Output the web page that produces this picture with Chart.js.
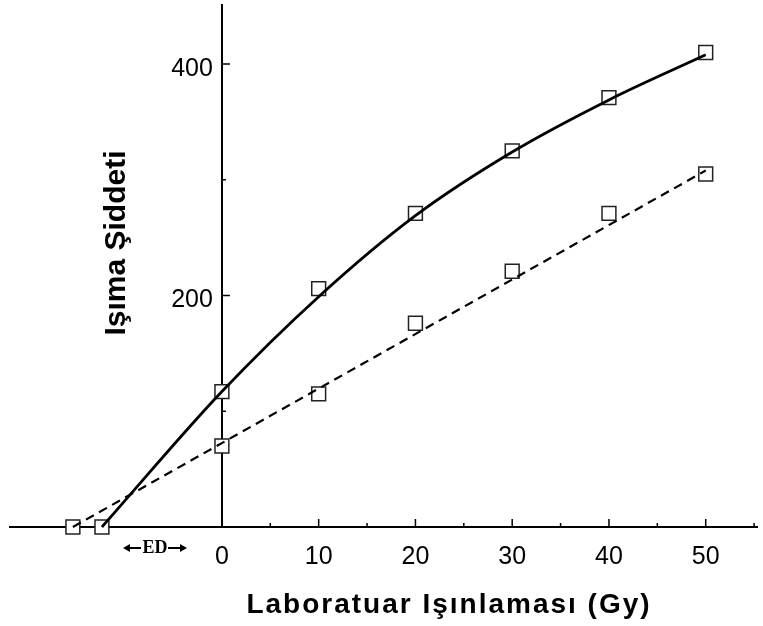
<!DOCTYPE html>
<html lang="tr">
<head>
<meta charset="UTF-8">
<title>Işıma Şiddeti</title>
<script src="https://cdn.jsdelivr.net/npm/chart.js"></script>
<style>
    html, body { margin: 0; padding: 0; background: #fff; }
</style>
</head>
<body>
<canvas id="chart" width="763" height="626"></canvas>
<script>
    // measured points: dose (Gy) vs glow intensity
    const doseSolid = [-12.4, 0, 10, 20, 30, 40, 50];
    const intensitySolid = [0, 117, 206, 271, 325, 371, 410];
    const doseDashed = [-15.4, 0, 10, 20, 30, 40, 50];
    const intensityDashed = [0, 70, 115, 176, 221, 271, 305];

    // fitted curves as drawn in the figure
    const fitSolidDose = [-12.4, 0, 10, 20, 30, 40, 50];
    const fitSolidIntensity = [0, 117, 199, 269, 324, 369, 408];
    const fitDashedDose = [-15.4, 50];
    const fitDashedIntensity = [0, 308];

    // axis ticks
    const xTickValues = [0, 10, 20, 30, 40, 50];
    const xMinorTicks = [5, 15, 25, 35, 45, 55];
    const yTickValues = [200, 400];
    const yMinorTicks = [100, 300];

    const xTitle = 'Laboratuar Işınlaması (Gy)';
    const yTitle = 'Işıma Şiddeti';
    const edLabel = 'ED';

    const FONT = 'Arial, "Liberation Sans", sans-serif';

    function toPoints(xs, ys) {
        return xs.map((x, i) => ({ x: x, y: ys[i] }));
    }

    function arrow(ctx, x1, x2, y) {
        const dir = Math.sign(x2 - x1);
        ctx.beginPath();
        ctx.moveTo(x1, y);
        ctx.lineTo(x2 - dir * 5, y);
        ctx.stroke();
        ctx.beginPath();
        ctx.moveTo(x2, y);
        ctx.lineTo(x2 - dir * 7, y - 4);
        ctx.lineTo(x2 - dir * 7, y + 4);
        ctx.closePath();
        ctx.fill();
    }

    // inward tick marks, y labels, axis titles and the ED note
    const axisDecor = {
        id: 'axisDecor',
        afterDraw(chart) {
            const ctx = chart.ctx;
            const xs = chart.scales.x, ys = chart.scales.y;
            const x0 = xs.getPixelForValue(0);
            const y0 = ys.getPixelForValue(0);

            ctx.save();
            ctx.strokeStyle = '#000';
            ctx.fillStyle = '#000';
            ctx.lineWidth = 1.5;
            ctx.beginPath();
            xTickValues.forEach(v => {
                const px = xs.getPixelForValue(v);
                ctx.moveTo(px, y0); ctx.lineTo(px, y0 - 8);
            });
            xMinorTicks.forEach(v => {
                const px = xs.getPixelForValue(v);
                ctx.moveTo(px, y0); ctx.lineTo(px, y0 - 4);
            });
            yTickValues.forEach(v => {
                const py = ys.getPixelForValue(v);
                ctx.moveTo(x0, py); ctx.lineTo(x0 + 8, py);
            });
            yMinorTicks.forEach(v => {
                const py = ys.getPixelForValue(v);
                ctx.moveTo(x0, py); ctx.lineTo(x0 + 4, py);
            });
            ctx.stroke();

            // y tick labels, left of the axis
            ctx.font = '25px ' + FONT;
            ctx.textAlign = 'right';
            ctx.textBaseline = 'middle';
            yTickValues.forEach(v => {
                ctx.fillText(String(v), x0 - 9, ys.getPixelForValue(v) + 5);
            });

            ctx.textAlign = 'center';
            ctx.textBaseline = 'alphabetic';
            ctx.font = 'bold 28px ' + FONT;
            ctx.letterSpacing = '2px';
            ctx.fillText(xTitle, 449, 613);
            ctx.letterSpacing = '0px';

            ctx.save();
            ctx.translate(125, 243);
            ctx.rotate(-Math.PI / 2);
            ctx.font = 'bold 30px ' + FONT;
            ctx.fillText(yTitle, 0, 0);
            ctx.restore();

            // ←ED→ under the negative part of the axis
            ctx.font = 'bold 18px "Liberation Serif", "Times New Roman", serif';
            ctx.textBaseline = 'middle';
            ctx.fillText(edLabel, 155, 548);
            ctx.lineWidth = 2;
            arrow(ctx, 141, 123, 548);
            arrow(ctx, 168, 187, 548);
            ctx.restore();
        }
    };

    const lineStyle = {
        borderColor: '#000',
        pointRadius: 0,
        clip: false
    };
    const markerStyle = {
        showLine: false,
        pointStyle: 'rect',
        pointRadius: 9.8,
        pointBackgroundColor: '#fff',
        pointBorderColor: '#222',
        pointBorderWidth: 1.5,
        clip: false
    };

    new Chart(document.getElementById('chart'), {
        type: 'line',
        data: {
            datasets: [
                Object.assign({
                    label: 'solid fit',
                    data: toPoints(fitSolidDose, fitSolidIntensity),
                    borderWidth: 2.8,
                    cubicInterpolationMode: 'monotone'
                }, lineStyle),
                Object.assign({
                    label: 'dashed fit',
                    data: toPoints(fitDashedDose, fitDashedIntensity),
                    borderWidth: 2.2,
                    borderDash: [9, 6]
                }, lineStyle),
                Object.assign({
                    label: 'solid',
                    data: toPoints(doseSolid, intensitySolid)
                }, markerStyle),
                Object.assign({
                    label: 'dashed',
                    data: toPoints(doseDashed, intensityDashed)
                }, markerStyle)
            ]
        },
        options: {
            responsive: false,
            animation: false,
            layout: { autoPadding: false, padding: { left: 10, right: 6, top: 5, bottom: 0 } },
            plugins: {
                legend: { display: false },
                tooltip: { enabled: false }
            },
            scales: {
                x: {
                    type: 'linear',
                    position: 'bottom',
                    min: -21.9,
                    max: 55.3,
                    grid: { display: false, drawTicks: false },
                    border: { display: true, color: '#000', width: 2 },
                    ticks: {
                        color: '#000',
                        font: { family: FONT, size: 25 },
                        padding: 15,
                        maxRotation: 0,
                        autoSkip: false
                    },
                    afterBuildTicks: s => { s.ticks = xTickValues.map(v => ({ value: v })); },
                    afterFit: s => { s.height = 99; s.paddingLeft = 0; s.paddingRight = 0; }
                },
                y: {
                    type: 'linear',
                    position: { x: 0 },
                    min: 0,
                    max: 451,
                    grid: { display: false, drawTicks: false },
                    border: { display: true, color: '#000', width: 2 },
                    ticks: { display: false },
                    afterBuildTicks: s => { s.ticks = yTickValues.map(v => ({ value: v })); },
                    afterFit: s => { s.paddingTop = 0; s.paddingBottom = 0; }
                }
            }
        },
        plugins: [axisDecor]
    });
</script>
</body>
</html>
